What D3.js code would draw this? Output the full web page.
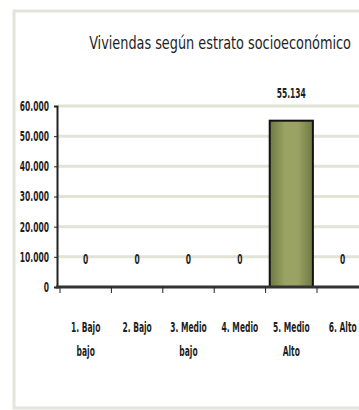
<!DOCTYPE html>
<html>
<head>
<meta charset="utf-8">
<script src="https://cdn.jsdelivr.net/npm/d3@7"></script>
<style>
    body { margin: 0; background: #fff; }
    text { font-family: "DejaVu Sans Condensed", "Liberation Sans", sans-serif; fill: #1e1e1e; }
</style>
</head>
<body>
<div id="chart"></div>
<script>
// chart data
const title = "Viviendas según estrato socioeconómico";
const categories = ["1. Bajo bajo", "2. Bajo", "3. Medio bajo", "4. Medio", "5. Medio Alto", "6. Alto"];
const viviendas = [0, 0, 0, 0, 55134, 0];
const yTicks = [0, 10000, 20000, 30000, 40000, 50000, 60000];

document.addEventListener("DOMContentLoaded", () => {
    const W = 359, H = 410;
    const SX = 0.6; // squeeze text horizontally, original font is very narrow

    const svg = d3.select("#chart")
        .append("svg")
        .attr("width", W)
        .attr("height", H);

    // outer frame of the chart area
    svg.append("rect")
        .attr("x", 14).attr("y", 11)
        .attr("width", 400).attr("height", 397)
        .attr("fill", "#fff")
        .attr("stroke", "#e3e4dc")
        .attr("stroke-width", 3);

    // title, squeezed to the width it has in the original
    const t = svg.append("text")
        .attr("text-anchor", "middle")
        .attr("font-size", 17)
        .text(title);
    const tw = t.node().getComputedTextLength();
    t.attr("transform", "translate(220,49) scale(" + (262 / tw) + ",1)");

    const x = d3.scaleBand()
        .domain(categories)
        .range([60, 60 + 6 * 51.4]);

    const y = d3.scaleLinear()
        .domain([0, 60000])
        .range([287, 106]);

    const loc = d3.formatLocale({decimal: ",", thousands: ".", grouping: [3], currency: ["$", ""]});
    const fmt = loc.format(",d");

    // gridlines
    svg.append("g")
        .selectAll("line")
        .data(yTicks.slice(1))
        .enter()
        .append("line")
        .attr("x1", 58).attr("x2", W)
        .attr("y1", d => y(d)).attr("y2", d => y(d))
        .attr("stroke", "#e1e3d7")
        .attr("stroke-width", 3);

    // bar gradient
    const grad = svg.append("defs").append("linearGradient")
        .attr("id", "barFill")
        .attr("x1", "0%").attr("x2", "100%");
    grad.append("stop").attr("offset", "0%").attr("stop-color", "#6f7842");
    grad.append("stop").attr("offset", "35%").attr("stop-color", "#9aa364");
    grad.append("stop").attr("offset", "65%").attr("stop-color", "#9aa364");
    grad.append("stop").attr("offset", "100%").attr("stop-color", "#6f7842");

    const barW = x.bandwidth() * 0.84;

    svg.append("g")
        .selectAll("rect")
        .data(categories.map((c, i) => [c, viviendas[i]]).filter(d => d[1] > 0))
        .enter()
        .append("rect")
        .attr("x", d => x(d[0]) + (x.bandwidth() - barW) / 2)
        .attr("y", d => y(d[1]))
        .attr("width", barW)
        .attr("height", d => y(0) - y(d[1]))
        .attr("fill", "url(#barFill)")
        .attr("stroke", "#111")
        .attr("stroke-width", 2);

    // value labels
    svg.append("g")
        .selectAll("text")
        .data(categories.map((c, i) => [c, viviendas[i]]))
        .enter()
        .append("text")
        .attr("transform", d => "translate(" + (x(d[0]) + x.bandwidth() / 2) + "," + (y(d[1]) - 23) + ") scale(" + SX + ",1)")
        .attr("text-anchor", "middle")
        .attr("font-size", 14)
        .attr("font-weight", "bold")
        .text(d => fmt(d[1]));

    // Y axis
    const yAxis = svg.append("g")
        .attr("transform", "translate(57,0)")
        .call(d3.axisLeft(y).tickValues(yTicks).tickSize(3).tickFormat(fmt));
    yAxis.select(".domain").attr("stroke", "#222").attr("stroke-width", 2);
    yAxis.selectAll(".tick line").attr("stroke", "#222");
    yAxis.selectAll("text")
        .attr("x", 0)
        .attr("transform", "translate(-8,0) scale(" + SX + ",1)")
        .attr("font-size", 14)
        .attr("font-weight", "bold")
        .attr("font-family", null);

    // X axis
    const xAxis = svg.append("g")
        .attr("transform", "translate(0," + y(0) + ")");
    xAxis.append("line")
        .attr("x1", 56).attr("x2", W)
        .attr("stroke", "#333")
        .attr("stroke-width", 3);
    xAxis.selectAll(".xt")
        .data(categories)
        .enter()
        .append("line")
        .attr("x1", d => x(d)).attr("x2", d => x(d))
        .attr("y1", 0).attr("y2", 6)
        .attr("stroke", "#222");

    const xl = xAxis.selectAll(".xl")
        .data(categories)
        .enter()
        .append("text")
        .attr("text-anchor", "middle")
        .attr("font-size", 14)
        .attr("font-weight", "bold")
        .attr("transform", d => "translate(" + (x(d) + x.bandwidth() / 2) + ",0) scale(" + SX + ",1)");

    // wrap multi-word labels the way the original does
    xl.each(function (d) {
        const parts = d.split(" ");
        let lines = [parts.slice(0, 2).join(" ")];
        if (parts.length > 2) lines.push(parts.slice(2).join(" "));
        d3.select(this).selectAll("tspan")
            .data(lines)
            .enter()
            .append("tspan")
            .attr("x", 0)
            .attr("y", (l, i) => 45 + i * 24)
            .text(l => l);
    });
});
</script>
</body>
</html>
